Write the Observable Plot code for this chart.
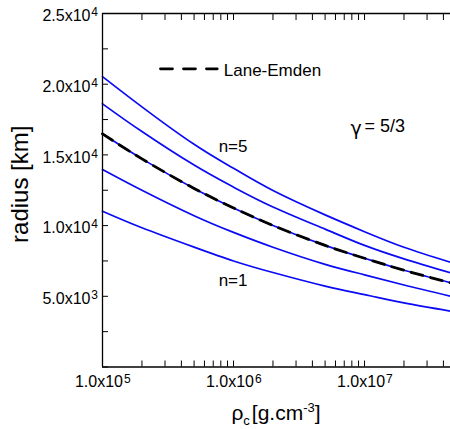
<!DOCTYPE html>
<html><head><meta charset="utf-8">
<script src="https://cdn.jsdelivr.net/npm/d3@7"></script>
<script src="https://cdn.jsdelivr.net/npm/@observablehq/plot@0.6"></script>
<style>body{margin:0;background:#fff} svg{display:block}</style>
</head><body><div id="chart"></div>
<script>
// central density rho_c [g/cm^3]
const rho = [1e5, 2e5, 5e5, 1e6, 2e6, 5e6, 1e7, 2e7, 4.53e7];
// radius [km] of the five curves (top to bottom)
const seriesNames = ["n=5", "n=4", "n=3", "n=2", "n=1"];
const radiusTop    = [20540, 18400, 15750, 14050, 12480, 10760, 9570, 8470, 7410];
const radius2      = [18610, 16650, 14280, 12720, 11320, 9750, 8600, 7650, 6660];
const radius3      = [16490, 14720, 12630, 11250, 10010, 8600, 7690, 6840, 5960];
const radius4      = [13970, 12500, 10700, 9520, 8470, 7260, 6520, 5800, 5010];
const radiusBottom = [11020, 9850, 8480, 7500, 6680, 5720, 5120, 4530, 3950];
// Lane-Emden solution
const laneEmden    = [16490, 14720, 12630, 11250, 10010, 8600, 7690, 6840, 5960];

const xTicks = [1e5,2e5,3e5,4e5,5e5,6e5,7e5,8e5,9e5,1e6,2e6,3e6,4e6,5e6,6e6,7e6,8e6,9e6,1e7,2e7,3e7,4e7];
const xLabelValues = [1e5, 1e6, 1e7];
const xMantissa = ["1.0x10", "1.0x10", "1.0x10"];
const xExp = ["5", "6", "7"];
const yTicks = [0,2500,5000,7500,10000,12500,15000,17500,20000,22500,25000];
const yLabelValues = [5000, 10000, 15000, 20000, 25000];
const yMantissa = ["5.0x10", "1.0x10", "1.5x10", "2.0x10", "2.5x10"];
const yExp = ["3", "4", "4", "4", "4"];

// annotations (data coordinates)
const nLabels = [
  {x: 7.7e5, y: 15190, text: "n=5"},
  {x: 7.7e5, y: 5700, text: "n=1"}
];
const gammaLabel = [{x: 7.8e6, y: 16600, sym: "γ", text: "= 5/3"}];
const legendLine = [{x: 2.77e5, y: 21090}, {x: 7.51e5, y: 21090}];
const legendText = [{x: 8.43e5, y: 20610, text: "Lane-Emden"}];

const allSeries = [radiusTop, radius2, radius3, radius4, radiusBottom];
const lines = allSeries.flatMap((vals, s) => rho.map((x, i) => ({x, r: vals[i], s: seriesNames[s]})));
const lane = rho.map((x, i) => ({x, r: laneEmden[i]}));

const font = "'Liberation Sans', Arial, Helvetica, sans-serif";
const plot = Plot.plot({
  width: 450, height: 429,
  marginLeft: 102, marginRight: 0, marginTop: 13, marginBottom: 62.5,
  style: {fontFamily: font, fontSize: "16px", background: "#fff", color: "#000"},
  x: {type: "log", domain: [1e5, 4.53e7]},
  y: {domain: [0, 25000]},
  marks: [
    Plot.line(lines, {x: "x", y: "r", z: "s", stroke: "#0a0af5", strokeWidth: 1.7, curve: "natural"}),
    Plot.line(lane, {x: "x", y: "r", stroke: "#000", strokeWidth: 2.8, strokeDasharray: "12,8", curve: "natural"}),
    Plot.ruleX([1e5], {stroke: "#000", strokeWidth: 1.3}),
    Plot.ruleY([0], {stroke: "#000", strokeWidth: 1.3}),
    Plot.ruleY([25000], {stroke: "#000", strokeWidth: 1.3}),
    Plot.axisX({anchor: "bottom", ticks: xTicks, tickSize: -6, tickFormat: () => "", label: null}),
    Plot.axisX({anchor: "top", ticks: xTicks, tickSize: -6, tickFormat: () => "", label: null}),
    Plot.axisY({anchor: "left", ticks: yTicks, tickSize: -6, tickFormat: () => "", label: null}),
    Plot.text(yLabelValues, {y: d => d, frameAnchor: "left", text: (d, i) => yMantissa[i], textAnchor: "end", lineAnchor: "bottom", dx: -12, dy: 7.7, fontSize: 16}),
    Plot.text(yLabelValues, {y: d => d, frameAnchor: "left", text: (d, i) => yExp[i], textAnchor: "start", lineAnchor: "bottom", dx: -11.3, dy: 2.7, fontSize: 12}),
    Plot.text(xLabelValues, {x: d => d, frameAnchor: "bottom", text: (d, i) => xMantissa[i], textAnchor: "end", lineAnchor: "bottom", dx: 20.5, dy: 20.2, fontSize: 16}),
    Plot.text(xLabelValues, {x: d => d, frameAnchor: "bottom", text: (d, i) => xExp[i], textAnchor: "start", lineAnchor: "bottom", dx: 21.5, dy: 15.5, fontSize: 12}),
    Plot.text(nLabels, {x: "x", y: "y", text: "text", textAnchor: "start", lineAnchor: "bottom", fontSize: 17}),
    Plot.text(gammaLabel, {x: "x", y: "y", text: "sym", textAnchor: "start", lineAnchor: "bottom", fontSize: 19, fontFamily: "'DejaVu Sans', sans-serif", dy: 3}),
    Plot.text(gammaLabel, {x: "x", y: "y", text: "text", textAnchor: "start", lineAnchor: "bottom", fontSize: 18, dx: 14}),
    Plot.line(legendLine, {x: "x", y: "y", stroke: "#000", strokeWidth: 2.8, strokeDasharray: "12,11"}),
    Plot.text(legendText, {x: "x", y: "y", text: "text", textAnchor: "start", lineAnchor: "bottom", fontSize: 17}),
    Plot.text(["radius [km]"], {frameAnchor: "left", text: d => d, rotate: -90, textAnchor: "middle", lineAnchor: "bottom", dx: -75, dy: -6, fontSize: 24})
  ]
});
document.getElementById("chart").appendChild(plot);

// x-axis title with subscript / superscript
const svg = d3.select(plot);
const xt = svg.append("text")
  .attr("x", 276).attr("y", 420)
  .attr("text-anchor", "middle")
  .attr("font-family", font)
  .attr("font-size", 21)
  .attr("fill", "#000");
xt.append("tspan").text("ρ");
xt.append("tspan").attr("font-size", 13).attr("dy", 5).text("c");
xt.append("tspan").attr("dy", -5).attr("dx", 2).text("[g.cm");
xt.append("tspan").attr("font-size", 13).attr("dy", -8).text("-3");
xt.append("tspan").attr("dy", 8).text("]");
</script>
</body></html>
